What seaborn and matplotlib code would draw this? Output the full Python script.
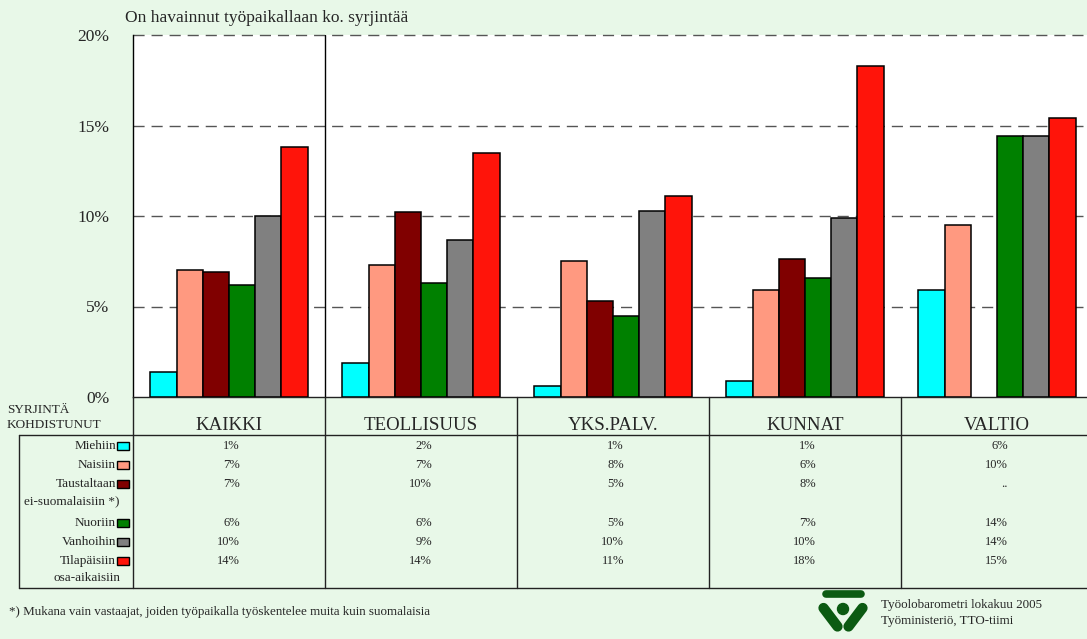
import numpy as np
import pandas as pd
import matplotlib
matplotlib.use("Agg")
import matplotlib.pyplot as plt
import seaborn as sns
from matplotlib.patches import Rectangle, Circle
from matplotlib.lines import Line2D

# --- data -------------------------------------------------------------
sectors = ["KAIKKI", "TEOLLISUUS", "YKS.PALV.", "KUNNAT", "VALTIO"]
targets = ["Miehiin", "Naisiin", "Taustaltaan ei-suomalaisiin *)",
           "Nuoriin", "Vanhoihin", "Tilapäisiin osa-aikaisiin"]
target_lines = [["Miehiin"], ["Naisiin"], ["Taustaltaan", "ei-suomalaisiin *)"],
                ["Nuoriin"], ["Vanhoihin"], ["Tilapäisiin", "osa-aikaisiin"]]

miehiin = [1.4, 1.9, 0.6, 0.9, 5.9]
naisiin = [7.0, 7.3, 7.5, 5.9, 9.5]
taustaltaan = [6.9, 10.2, 5.3, 7.6, np.nan]
nuoriin = [6.2, 6.3, 4.5, 6.6, 14.4]
vanhoihin = [10.0, 8.7, 10.3, 9.9, 14.4]
tilapaisiin = [13.8, 13.5, 11.1, 18.3, 15.4]
series = [miehiin, naisiin, taustaltaan, nuoriin, vanhoihin, tilapaisiin]

yticks = [0, 5, 10, 15, 20]
ytick_labels = ["0%", "5%", "10%", "15%", "20%"]

title = "On havainnut työpaikallaan ko. syrjintää"
footnote = "*) Mukana vain vastaajat, joiden työpaikalla työskentelee muita kuin suomalaisia"
source_lines = ["Työolobarometri lokakuu 2005", "Työministeriö, TTO-tiimi"]

colors = ["#00FFFF", "#FF9980", "#800000", "#008000", "#808080", "#FF140A"]
BG = "#E8F8E8"

rows = []
for t, vals in zip(targets, series):
    for s, v in zip(sectors, vals):
        rows.append({"sector": s, "target": t, "value": v})
df = pd.DataFrame(rows)

# --- figure -----------------------------------------------------------
W, H = 1087, 639
sns.set_style("white")
plt.rcParams["font.family"] = ["Liberation Serif", "DejaVu Serif"]

fig = plt.figure(figsize=(W / 100, H / 100), dpi=100, facecolor=BG)

# plot area in pixel layout
L, R, T, B = 133, 1093, 35, 397
ax = fig.add_axes([L / W, 1 - B / H, (R - L) / W, (B - T) / H])
ax.set_facecolor("white")

sns.barplot(data=df, x="sector", y="value", hue="target", order=sectors,
            hue_order=targets, palette=colors, saturation=1, width=0.82,
            edgecolor="black", linewidth=1.1, legend=False, ax=ax, zorder=3)

ax.set_xlim(-0.5, len(sectors) - 0.5)
ax.set_ylim(0, 20)
ax.set_yticks(yticks)
ax.set_yticklabels(ytick_labels, fontsize=12.5)
ax.tick_params(axis="y", length=0, pad=17)
ax.set_xticks([])
ax.set_xlabel("")
ax.set_ylabel("")
ax.set_axisbelow(True)
for yv in yticks[1:]:
    ax.axhline(yv, color="#555555", lw=1, linestyle=(0, (8, 5)), zorder=1,
               clip_on=False)
for side in ["top", "right"]:
    ax.spines[side].set_visible(False)
ax.spines["left"].set_color("black")
ax.spines["left"].set_linewidth(1)
ax.spines["bottom"].set_color("#222222")
ax.spines["bottom"].set_linewidth(1)
ax.axvline(0.5, color="black", lw=1, zorder=4)

fig.text(125 / W, 1 - 18 / H, title, fontsize=12.5, ha="left", va="center")

# --- table beneath the bars (pixel-based overlay) ----------------------
ov = fig.add_axes([0, 0, 1, 1], facecolor="none")
ov.set_xlim(0, W)
ov.set_ylim(H, 0)
ov.axis("off")

col_w = (R - L) / len(sectors)
hdr_bottom, tbl_bottom, tbl_left = 435, 588, 19
line_kw = dict(color="#222222", lw=1)
ov.add_line(Line2D([tbl_left, W], [hdr_bottom, hdr_bottom], **line_kw))
ov.add_line(Line2D([tbl_left, W], [tbl_bottom, tbl_bottom], **line_kw))
ov.add_line(Line2D([tbl_left, tbl_left], [hdr_bottom, tbl_bottom], **line_kw))
for i in range(len(sectors)):
    xb = L + i * col_w
    ov.add_line(Line2D([xb, xb], [B, tbl_bottom], **line_kw))

ov.text(7, 410, "SYRJINTÄ", fontsize=9.5, ha="left", va="center")
ov.text(7, 425, "KOHDISTUNUT", fontsize=9.5, ha="left", va="center")

for i, s in enumerate(sectors):
    xc = L + (i + 0.5) * col_w
    ov.text(xc, 430, s, fontsize=13.6, ha="center", va="baseline")

row_step = 19.2
row_y0 = 446
slot = 0
for k, (lines, vals) in enumerate(zip(target_lines, series)):
    y = row_y0 + slot * row_step
    ov.text(116, y, lines[0], fontsize=9.5, ha="right", va="center")
    ov.add_patch(Rectangle((117, y - 4), 12, 8, facecolor=colors[k],
                           edgecolor="black", lw=1))
    if len(lines) > 1:
        ov.text(120, y + 16.5, lines[1], fontsize=9.5, ha="right", va="center")
    for i, v in enumerate(vals):
        xc = L + (i + 0.5) * col_w
        txt = ".." if np.isnan(v) else f"{int(v + 0.5)}%"
        ov.text(xc + 11, y, txt, fontsize=9, ha="right", va="center")
    slot += len(lines)

ov.text(9, 612, footnote, fontsize=9.4, ha="left", va="center")

# --- ministry emblem ----------------------------------------------------
green = "#0B5A12"
ov.add_line(Line2D([826, 861], [593.5, 593.5], color=green, lw=5.5,
                   solid_capstyle="round"))
ov.add_line(Line2D([823.5, 837.5], [608, 626.5], color=green, lw=7.4,
                   solid_capstyle="round"))
ov.add_line(Line2D([862.5, 848.5], [608, 626.5], color=green, lw=7.4,
                   solid_capstyle="round"))
ov.add_patch(Circle((843, 609), 5.5, color=green))

ov.text(881, 605, source_lines[0], fontsize=9.4, ha="left", va="center")
ov.text(881, 621, source_lines[1], fontsize=9.4, ha="left", va="center")

fig.savefig("out.png", dpi=100, facecolor=BG)
